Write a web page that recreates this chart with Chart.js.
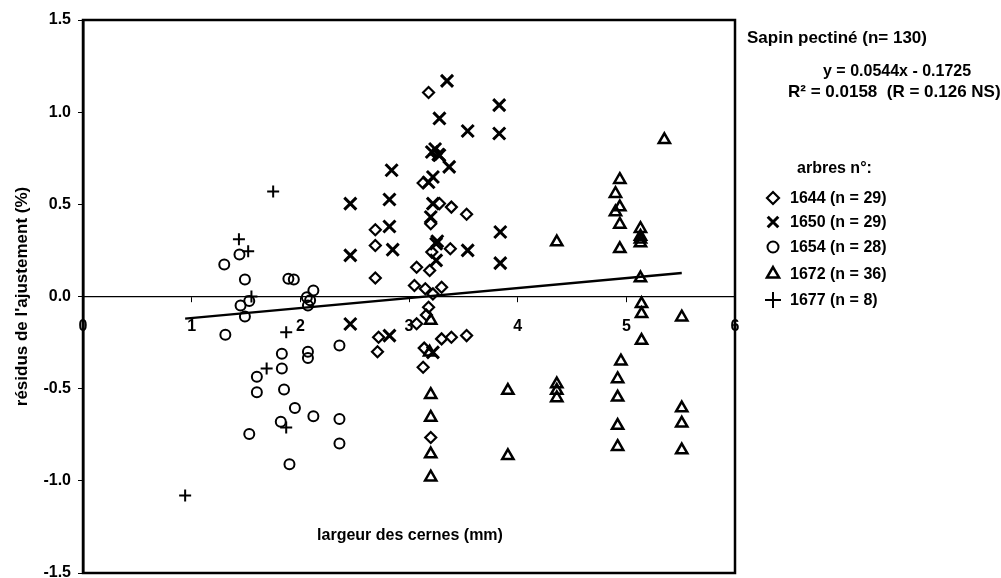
<!DOCTYPE html>
<html>
<head>
<meta charset="utf-8">
<script src="https://cdn.jsdelivr.net/npm/chart.js@4.4.1/dist/chart.umd.min.js"></script>
<style>
  html, body { margin: 0; padding: 0; background: #fff; }
  #wrap { width: 1001px; height: 578px; }
</style>
</head>
<body>
<div id="wrap"><canvas id="c" width="1001" height="578"></canvas></div>
<script>
// tree 1644 (diamonds)
const x1644 = [3.18, 2.69, 2.69, 2.69, 2.72, 2.71, 3.25, 3.13, 3.28, 3.39, 3.53, 3.20, 3.38, 3.21, 3.07,
               3.19, 3.05, 3.15, 3.30, 3.22, 3.18, 3.07, 3.30, 3.39, 3.53, 3.13, 3.20, 3.16, 3.14];
const y1644 = [1.107, 0.362, 0.277, 0.10, -0.221, -0.30, 0.775, 0.616, 0.504, 0.485, 0.446, 0.395, 0.259, 0.241, 0.159,
               0.141, 0.06, 0.042, 0.05, 0.014, -0.058, -0.148, -0.23, -0.221, -0.212, -0.384, -0.765, -0.10, -0.28];
// tree 1650 (x)
const x1650 = [2.84, 2.46, 2.82, 2.82, 2.46, 2.85, 2.46, 2.82, 3.35, 3.28, 3.54, 3.21, 3.28, 3.37, 3.22,
               3.22, 3.20, 3.25, 3.54, 3.25, 3.83, 3.83, 3.84, 3.84, 3.22, 3.24, 3.18, 3.26, 3.27];
const y1650 = [0.685, 0.504, 0.526, 0.38, 0.223, 0.254, -0.149, -0.212, 1.17, 0.966, 0.898, 0.784, 0.766, 0.703, 0.648,
               0.504, 0.431, 0.286, 0.25, 0.196, 1.038, 0.884, 0.35, 0.181, -0.303, 0.80, 0.62, 0.30, 0.77];
// tree 1654 (circles)
const x1654 = [1.30, 1.44, 1.49, 1.89, 1.94, 1.45, 1.53, 1.49, 2.12, 2.06, 2.07, 1.31, 1.83, 2.07,
               2.07, 1.83, 1.60, 1.60, 1.85, 1.95, 2.12, 1.82, 1.53, 1.90, 2.36, 2.36, 2.36, 2.09];
const y1654 = [0.174, 0.228, 0.092, 0.096, 0.092, -0.049, -0.025, -0.109, 0.033, -0.004, -0.049, -0.207, -0.31, -0.30,
               -0.333, -0.39, -0.435, -0.52, -0.505, -0.605, -0.65, -0.68, -0.746, -0.91, -0.266, -0.665, -0.797, -0.02];
// tree 1672 (triangles)
const x1672 = [3.20, 3.19, 3.20, 3.20, 3.20, 3.20, 3.91, 3.91, 4.36, 4.36, 4.36, 4.36, 4.94, 4.90, 4.94, 4.90, 4.94, 4.94,
               5.13, 5.13, 5.13, 5.13, 5.14, 5.14, 5.14, 5.51, 4.95, 4.92, 4.92, 4.92, 4.92, 5.51, 5.51, 5.51, 5.35, 5.13];
const y1672 = [-0.13, -0.303, -0.533, -0.656, -0.855, -0.98, -0.51, -0.864, 0.295, -0.475, -0.51, -0.55, 0.634, 0.558, 0.485, 0.458, 0.391, 0.259,
               0.368, 0.326, 0.29, 0.10, -0.04, -0.094, -0.239, -0.112, -0.351, -0.447, -0.547, -0.70, -0.815, -0.605, -0.688, -0.833, 0.85, 0.31];
// tree 1677 (plus)
const x1677 = [0.94, 1.435, 1.52, 1.75, 1.87, 1.69, 1.87, 1.55];
const y1677 = [-1.08, 0.31, 0.245, 0.57, -0.194, -0.39, -0.71, 0.0];
// fitted line end points
const fitX = [0.94, 5.51];
const fitY = [-0.12, 0.127];

const xTicks = [0, 1, 2, 3, 4, 5, 6];
const yTicks = [-1.5, -1.0, -0.5, 0.0, 0.5, 1.0, 1.5];
const legendLabels = ["1644 (n = 29)", "1650 (n = 29)", "1654 (n = 28)", "1672 (n = 36)", "1677 (n = 8)"];

const FONT = '"Liberation Sans", Arial, sans-serif';
const pts = (xs, ys) => xs.map((x, i) => ({ x: x, y: ys[i] }));

const styles = [
  { pointStyle: "rectRot", radius: 5.5, width: 2.2 },
  { pointStyle: "crossRot", radius: 8.5, width: 3 },
  { pointStyle: "circle", radius: 5, width: 2 },
  { pointStyle: "triangle", radius: 6.5, width: 2.5 },
  { pointStyle: "cross", radius: 6, width: 2 }
];
const series = [[x1644, y1644], [x1650, y1650], [x1654, y1654], [x1672, y1672], [x1677, y1677]];

const datasets = series.map((s, i) => ({
  type: "scatter",
  label: legendLabels[i],
  data: pts(s[0], s[1]),
  pointStyle: styles[i].pointStyle,
  pointRadius: styles[i].radius,
  pointBorderWidth: styles[i].width,
  pointBorderColor: "#000",
  pointBackgroundColor: "rgba(0,0,0,0)"
}));
datasets.push({
  type: "line",
  label: "fit",
  data: pts(fitX, fitY),
  borderColor: "#000",
  borderWidth: 2.5,
  pointRadius: 0,
  fill: false
});

// frame, x title, regression text and hand made legend
const notes = {
  id: "notes",
  afterDraw(chart) {
    const { ctx, chartArea: a } = chart;
    ctx.save();
    ctx.strokeStyle = "#000";
    ctx.lineWidth = 2.5;
    ctx.strokeRect(a.left, a.top, a.right - a.left, a.bottom - a.top);

    ctx.fillStyle = "#000";
    ctx.textBaseline = "alphabetic";
    ctx.font = "bold 16px " + FONT;
    ctx.textAlign = "center";
    ctx.fillText("largeur des cernes (mm)", 410, 540);

    ctx.textAlign = "left";
    ctx.font = "bold 17px " + FONT;
    ctx.fillText("Sapin pectiné (n= 130)", 747, 43);
    ctx.font = "bold 16px " + FONT;
    ctx.fillText("y = 0.0544x - 0.1725", 823, 76);
    ctx.font = "bold 17px " + FONT;
    ctx.fillText("R² = 0.0158  (R = 0.126 NS)", 788, 97);
    ctx.font = "bold 16px " + FONT;
    ctx.fillText("arbres n°:", 797, 173);

    const rows = [198, 222, 247, 274, 300];
    const legendSize = [6, 7.5, 5.5, 7, 8];
    rows.forEach((y, i) => {
      ctx.lineWidth = styles[i].width;
      ctx.strokeStyle = "#000";
      ctx.fillStyle = "rgba(0,0,0,0)";
      Chart.helpers.drawPoint(ctx, { pointStyle: styles[i].pointStyle, radius: legendSize[i], borderWidth: styles[i].width, rotation: 0 }, 773, y);
      ctx.fillStyle = "#000";
      ctx.textBaseline = "middle";
      ctx.fillText(legendLabels[i], 790, y + 1);
    });
    ctx.restore();
  }
};

new Chart(document.getElementById("c"), {
  data: { datasets: datasets },
  options: {
    responsive: false,
    animation: false,
    layout: { autoPadding: false, padding: { left: 0, top: 20, right: 266, bottom: 5 } },
    plugins: { legend: { display: false }, tooltip: { enabled: false } },
    scales: {
      x: {
        type: "linear",
        position: { y: 0 },
        min: 0,
        max: 6,
        afterBuildTicks: s => { s.ticks = xTicks.map(v => ({ value: v })); },
        afterFit: s => { s.height = 0; },
        grid: { drawOnChartArea: false, tickLength: 5, color: "#000", lineWidth: 1 },
        border: { display: true, color: "#000", width: 1.2 },
        ticks: { color: "#000", padding: 15, font: { family: FONT, size: 16, weight: "bold" } }
      },
      y: {
        type: "linear",
        min: -1.5,
        max: 1.5,
        afterBuildTicks: s => { s.ticks = yTicks.map(v => ({ value: v })); },
        afterFit: s => { s.width = 83; s.paddingTop = 0; s.paddingBottom = 0; },
        grid: { drawOnChartArea: false, tickLength: 5, color: "#000", lineWidth: 1 },
        border: { display: true, color: "#000", width: 2.5 },
        ticks: {
          color: "#000",
          padding: 7,
          font: { family: FONT, size: 16, weight: "bold" },
          callback: v => v.toFixed(1)
        },
        title: {
          display: true,
          text: "résidus de l'ajustement (%)",
          color: "#000",
          padding: { top: 12 },
          font: { family: FONT, size: 17, weight: "bold" }
        }
      }
    }
  },
  plugins: [notes]
});
</script>
</body>
</html>
